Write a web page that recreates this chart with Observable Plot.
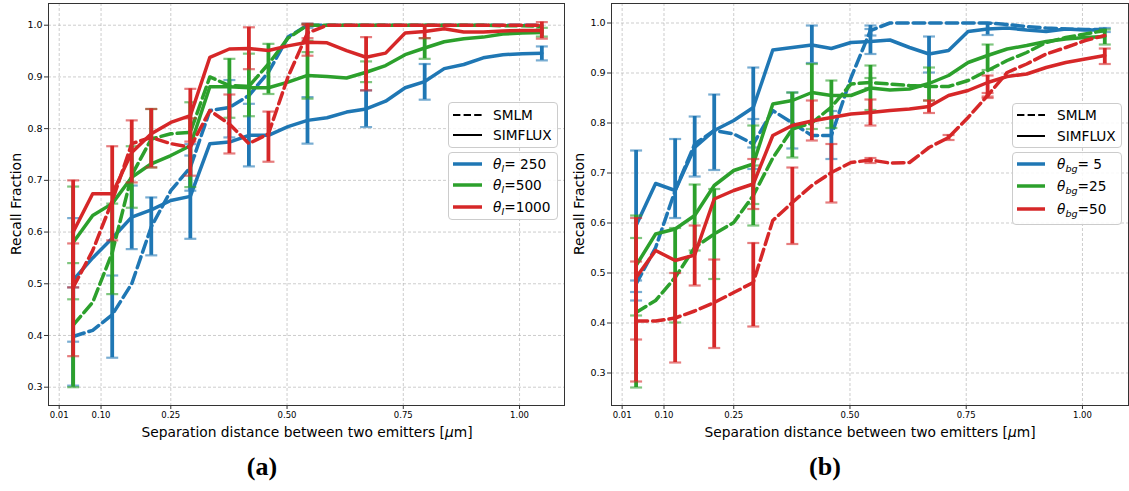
<!DOCTYPE html>
<html>
<head>
<meta charset="utf-8">
<script src="https://cdn.jsdelivr.net/npm/d3@7"></script>
<script src="https://cdn.jsdelivr.net/npm/@observablehq/plot@0.6"></script>
<style>
  html, body { margin: 0; padding: 0; background: #fff; }
  #root { position: relative; width: 1129px; height: 491px; overflow: hidden; font-family: "DejaVu Sans", sans-serif; }
  .abs { position: absolute; }
  .leg { position: absolute; border: 1px solid #cccccc; border-radius: 4px; background: rgba(255,255,255,0.85); box-sizing: border-box; }
  .legtxt { position: absolute; font-size: 13.7px; line-height: 16px; white-space: nowrap; color: #000; }
  .xlab { position: absolute; font-size: 13.8px; white-space: nowrap; transform: translate(-50%, -50%); }
  .ylab { position: absolute; font-size: 14px; white-space: nowrap; transform: translate(-50%, -50%) rotate(-90deg); }
  .cap { position: absolute; font-family: "Liberation Serif", serif; font-weight: bold; font-size: 26px; transform: translate(-50%, -50%); }
</style>
</head>
<body>
<div id="root"></div>
<script>
// ---------- data ----------
const sep = [0.04, 0.082, 0.124, 0.166, 0.208, 0.25, 0.292, 0.334, 0.376, 0.418, 0.46, 0.502, 0.544, 0.586, 0.628, 0.67, 0.712, 0.754, 0.796, 0.838, 0.88, 0.922, 0.964, 1.006, 1.048];
const xTicks = [0.01, 0.10, 0.25, 0.50, 0.75, 1.00];
const yTicks = [0.3, 0.4, 0.5, 0.6, 0.7, 0.8, 0.9, 1.0];
const methodLabels = ["SMLM", "SIMFLUX"];
const aParamLabels = ["= 250", "=500", "=1000"];
const bParamLabels = ["= 5", "=25", "=50"];

// panel (a): theta_I = 250 (blue), 500 (green), 1000 (red)
const aBlueSMLM     = [0.398, 0.41, 0.44, 0.50, 0.61, 0.68, 0.725, 0.835, 0.841, 0.864, 0.909, 0.977, 1.0, 1.0, 1.0, 1.0, 1.0, 1.0, 1.0, 1.0, 1.0, 1.0, 1.0, 1.0, 1.0];
const aBlueSIMFLUX  = [0.507, 0.55, 0.588, 0.629, 0.643, 0.661, 0.669, 0.771, 0.774, 0.787, 0.787, 0.804, 0.816, 0.821, 0.832, 0.838, 0.853, 0.879, 0.891, 0.916, 0.924, 0.937, 0.943, 0.945, 0.946];
const aGreenSMLM    = [0.42, 0.464, 0.56, 0.71, 0.78, 0.79, 0.793, 0.90, 0.883, 0.882, 0.925, 0.975, 1.0, 1.0, 1.0, 1.0, 1.0, 1.0, 1.0, 1.0, 1.0, 1.0, 0.999, 0.999, 0.998];
const aGreenSIMFLUX = [0.58, 0.632, 0.655, 0.706, 0.732, 0.748, 0.767, 0.881, 0.881, 0.879, 0.879, 0.89, 0.903, 0.901, 0.898, 0.909, 0.922, 0.943, 0.956, 0.968, 0.974, 0.977, 0.983, 0.985, 0.986];
const aRedSMLM      = [0.493, 0.564, 0.66, 0.771, 0.783, 0.771, 0.764, 0.835, 0.809, 0.771, 0.79, 0.90, 0.985, 1.0, 1.0, 1.0, 1.0, 1.0, 1.0, 1.0, 1.0, 1.0, 1.0, 1.0, 1.0];
const aRedSIMFLUX   = [0.60, 0.674, 0.674, 0.754, 0.79, 0.812, 0.825, 0.938, 0.954, 0.955, 0.951, 0.96, 0.967, 0.966, 0.951, 0.938, 0.946, 0.985, 0.988, 0.993, 0.987, 0.987, 0.989, 0.99, 0.99];
// error bars: [index into sep, low, high]
const aBlueSMLMbars     = [[0,0.303,0.493],[2,0.357,0.516],[4,0.555,0.667],[6,0.68,0.77],[8,0.783,0.894],[12,0.995,1.003]];
const aBlueSIMFLUXbars  = [[0,0.388,0.627],[3,0.567,0.69],[6,0.587,0.748],[9,0.727,0.848],[12,0.771,0.861],[15,0.803,0.874],[18,0.856,0.925],[24,0.932,0.959]];
const aGreenSMLMbars    = [[0,0.30,0.54],[2,0.48,0.655],[4,0.725,0.838],[8,0.821,0.935],[10,0.867,0.964],[12,0.97,1.002]];
const aGreenSIMFLUXbars = [[0,0.47,0.688],[3,0.647,0.766],[6,0.687,0.851],[9,0.824,0.945],[12,0.858,0.948],[15,0.89,0.93],[18,0.935,0.975],[24,0.978,0.995]];
const aRedSMLMbars      = [[0,0.36,0.578],[2,0.584,0.766],[4,0.725,0.838],[6,0.709,0.82],[8,0.752,0.866],[10,0.736,0.833],[12,0.975,1.0]];
const aRedSIMFLUXbars   = [[0,0.493,0.70],[3,0.696,0.816],[6,0.775,0.877],[9,0.915,0.996],[12,0.941,1.003],[15,0.874,0.977],[18,0.975,1.0],[24,0.974,1.006]];

// panel (b): theta_bg = 5 (blue), 25 (green), 50 (red)
const bBlueSMLM     = [0.478, 0.551, 0.665, 0.758, 0.785, 0.778, 0.758, 0.825, 0.80, 0.775, 0.775, 0.89, 0.985, 1.0, 1.0, 1.0, 1.0, 1.0, 1.0, 0.997, 0.993, 0.99, 0.988, 0.987, 0.987];
const bBlueSIMFLUX  = [0.595, 0.679, 0.665, 0.751, 0.785, 0.805, 0.831, 0.946, 0.951, 0.956, 0.949, 0.961, 0.963, 0.966, 0.951, 0.938, 0.945, 0.983, 0.988, 0.99, 0.986, 0.983, 0.988, 0.986, 0.986];
const bGreenSMLM    = [0.421, 0.445, 0.491, 0.551, 0.578, 0.601, 0.655, 0.73, 0.788, 0.80, 0.832, 0.878, 0.881, 0.878, 0.875, 0.873, 0.873, 0.885, 0.905, 0.925, 0.941, 0.961, 0.971, 0.978, 0.985];
const bGreenSIMFLUX = [0.515, 0.578, 0.588, 0.615, 0.675, 0.705, 0.718, 0.838, 0.845, 0.861, 0.855, 0.855, 0.87, 0.866, 0.868, 0.879, 0.895, 0.921, 0.935, 0.948, 0.955, 0.963, 0.968, 0.971, 0.973];
const bRedSMLM      = [0.404, 0.404, 0.41, 0.424, 0.441, 0.461, 0.481, 0.605, 0.641, 0.675, 0.701, 0.721, 0.726, 0.72, 0.721, 0.751, 0.771, 0.811, 0.855, 0.901, 0.918, 0.938, 0.951, 0.965, 0.975];
const bRedSIMFLUX   = [0.491, 0.545, 0.525, 0.536, 0.648, 0.665, 0.678, 0.775, 0.795, 0.804, 0.811, 0.818, 0.821, 0.825, 0.828, 0.833, 0.855, 0.865, 0.881, 0.893, 0.898, 0.911, 0.921, 0.928, 0.935];
const bBlueSMLMbars     = [[0,0.462,0.485],[2,0.61,0.768],[4,0.706,0.857],[6,0.708,0.808],[8,0.749,0.861],[10,0.728,0.824],[12,0.975,0.995]];
const bBlueSIMFLUXbars  = [[0,0.445,0.745],[3,0.693,0.813],[6,0.751,0.911],[9,0.92,0.995],[12,0.938,0.988],[15,0.901,0.973],[18,0.976,1.0],[24,0.982,0.99]];
const bGreenSMLMbars    = [[0,0.271,0.57],[2,0.401,0.59],[4,0.488,0.668],[6,0.595,0.715],[8,0.731,0.861],[10,0.79,0.885],[12,0.87,0.89]];
const bGreenSIMFLUXbars = [[0,0.415,0.615],[3,0.545,0.677],[6,0.638,0.795],[9,0.788,0.918],[12,0.826,0.915],[15,0.845,0.911],[18,0.906,0.957],[24,0.957,0.987]];
const bRedSMLMbars      = [[0,0.283,0.523],[2,0.321,0.50],[4,0.35,0.527],[6,0.393,0.56],[8,0.558,0.711],[10,0.641,0.758],[12,0.72,0.73],[16,0.766,0.776],[18,0.85,0.86]];
const bRedSIMFLUXbars   = [[0,0.367,0.61],[3,0.475,0.595],[6,0.628,0.728],[9,0.765,0.845],[12,0.795,0.847],[15,0.82,0.845],[18,0.853,0.895],[24,0.918,0.949]];

// ---------- drawing ----------
const BLUE = "#1f77b4", GREEN = "#2ca02c", RED = "#d62728";
const capSymbol = { draw(ctx, size) { const r = Math.sqrt(size / Math.PI); ctx.moveTo(-r, 0); ctx.lineTo(r, 0); } };

function seriesMarks(values, bars, color, dashed) {
  const pts = values.map((v, i) => ({ x: sep[i], y: v }));
  const eb = bars.map(([k, lo, hi]) => ({ x: sep[k], lo, hi }));
  return [
    Plot.line(pts, { x: "x", y: "y", stroke: color, strokeWidth: 3.5, strokeDasharray: dashed ? "11.5,5" : undefined, strokeLinejoin: "round" }),
    Plot.ruleX(eb, { x: "x", y1: "lo", y2: "hi", stroke: color, strokeWidth: 3.8 }),
    Plot.dot(eb, { x: "x", y: "lo", symbol: capSymbol, r: 6, fill: "none", stroke: color, strokeWidth: 2.2, strokeOpacity: 0.6 }),
    Plot.dot(eb, { x: "x", y: "hi", symbol: capSymbol, r: 6, fill: "none", stroke: color, strokeWidth: 2.2, strokeOpacity: 0.6 })
  ];
}

function panel({ width, height, marginLeft, marginRight, xDomain, yDomain, series }) {
  return Plot.plot({
    width, height, marginLeft, marginRight, marginTop: 3, marginBottom: height - 405,
    style: { fontFamily: "DejaVu Sans, sans-serif", color: "#000", background: "transparent", overflow: "visible" },
    x: { domain: xDomain, label: null },
    y: { domain: yDomain, label: null },
    marks: [
      Plot.gridX(xTicks, { stroke: "#b0b0b0", strokeOpacity: 0.8, strokeWidth: 0.8, strokeDasharray: "3,2" }),
      Plot.gridY(yTicks, { stroke: "#b0b0b0", strokeOpacity: 0.8, strokeWidth: 0.8, strokeDasharray: "3,2" }),
      ...series.flatMap(s => seriesMarks(s[0], s[1], s[2], s[3])),
      Plot.frame({ stroke: "#333", strokeWidth: 1 }),
      Plot.axisX(xTicks, { tickFormat: d3.format(".2f"), fontSize: 8.5, tickSize: 4, tickPadding: 2, label: null, stroke: "#333" }),
      Plot.axisY(yTicks, { tickFormat: d3.format(".1f"), fontSize: 9.5, tickSize: 4, tickPadding: 2, label: null, stroke: "#333" })
    ]
  });
}

const root = document.getElementById("root");

function place(el, left, top) {
  const wrap = document.createElement("div");
  wrap.className = "abs";
  wrap.style.left = left + "px";
  wrap.style.top = top + "px";
  wrap.appendChild(el);
  root.appendChild(wrap);
}

const plotA = panel({
  width: 580, height: 425, marginLeft: 48, marginRight: 16,
  xDomain: [-0.013, 1.0967], yDomain: [0.2646, 1.042],
  series: [
    [aBlueSMLM, aBlueSMLMbars, BLUE, true], [aBlueSIMFLUX, aBlueSIMFLUXbars, BLUE, false],
    [aGreenSMLM, aGreenSMLMbars, GREEN, true], [aGreenSIMFLUX, aGreenSIMFLUXbars, GREEN, false],
    [aRedSMLM, aRedSMLMbars, RED, true], [aRedSIMFLUX, aRedSIMFLUXbars, RED, false]
  ]
});
place(plotA, 0, 0);

const plotB = panel({
  width: 566, height: 425, marginLeft: 48, marginRight: 1,
  xDomain: [-0.0129, 1.099], yDomain: [0.235, 1.039],
  series: [
    [bBlueSMLM, bBlueSMLMbars, BLUE, true], [bBlueSIMFLUX, bBlueSIMFLUXbars, BLUE, false],
    [bGreenSMLM, bGreenSMLMbars, GREEN, true], [bGreenSIMFLUX, bGreenSIMFLUXbars, GREEN, false],
    [bRedSMLM, bRedSMLMbars, RED, true], [bRedSIMFLUX, bRedSIMFLUXbars, RED, false]
  ]
});
place(plotB, 563, 0);

// axis titles and captions
function addText(cls, html, x, y) {
  const d = document.createElement("div");
  d.className = cls;
  d.innerHTML = html;
  d.style.left = x + "px";
  d.style.top = y + "px";
  root.appendChild(d);
}
const xTitle = 'Separation distance between two emitters [<i>μ</i>m]';
addText("xlab", xTitle, 307, 432);
addText("xlab", xTitle, 870, 432);
addText("ylab", "Recall Fraction", 15.5, 204);
addText("ylab", "Recall Fraction", 579, 204);
addText("cap", "(a)", 262, 467);
addText("cap", "(b)", 825, 467);

// legends
function sample(x1, x2, y, color, width, dash) {
  const ns = "http://www.w3.org/2000/svg";
  const s = document.createElementNS(ns, "svg");
  s.setAttribute("width", x2 - x1);
  s.setAttribute("height", 8);
  s.style.position = "absolute";
  s.style.left = x1 + "px";
  s.style.top = (y - 4) + "px";
  const l = document.createElementNS(ns, "line");
  l.setAttribute("x1", 0); l.setAttribute("x2", x2 - x1);
  l.setAttribute("y1", 4); l.setAttribute("y2", 4);
  l.setAttribute("stroke", color); l.setAttribute("stroke-width", width);
  if (dash) l.setAttribute("stroke-dasharray", dash);
  s.appendChild(l);
  root.appendChild(s);
}
function legend(cfg, sub, paramLabels) {
  for (const b of cfg.boxes) {
    const d = document.createElement("div");
    d.className = "leg";
    Object.assign(d.style, { left: b[0] + "px", top: b[1] + "px", width: b[2] + "px", height: b[3] + "px" });
    root.appendChild(d);
  }
  const [s1, s2, tx] = cfg.cols;
  sample(s1, s2, cfg.rows[0], "#000", 2, "7.4,3.2");
  sample(s1, s2, cfg.rows[1], "#000", 2, null);
  methodLabels.forEach((t, i) => addText("legtxt", t, tx, cfg.rows[i] - 8));
  [BLUE, GREEN, RED].forEach((c, i) => {
    sample(s1, s2, cfg.rows[2 + i], c, 3.5, null);
    addText("legtxt", `<i>θ</i><sub style="font-style:italic;font-size:70%;vertical-align:-3px">${sub}</sub>${paramLabels[i]}`, tx, cfg.rows[2 + i] - 8);
  });
}
legend({ boxes: [[448, 102, 110, 46], [448, 152, 110, 68]], cols: [453, 482, 493], rows: [115, 135, 163.5, 185, 206.5] }, "I", aParamLabels);
legend({ boxes: [[1012, 103, 110, 45], [1012, 152, 110, 73]], cols: [1017, 1045, 1057], rows: [115, 136, 163.5, 186, 209] }, "bg", bParamLabels);
</script>
</body>
</html>
